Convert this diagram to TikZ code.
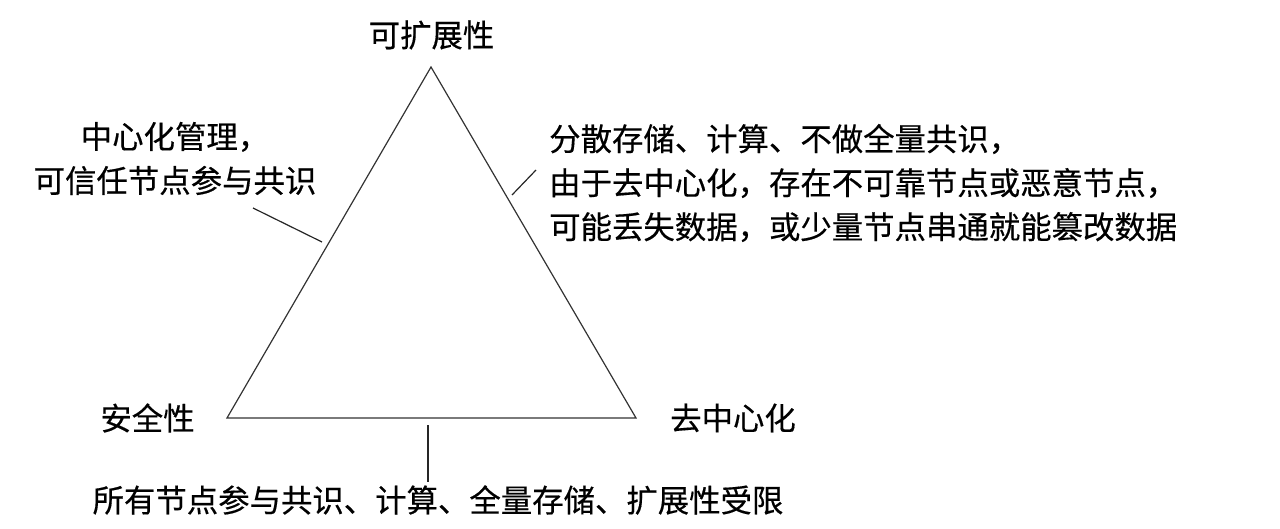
\documentclass[tikz,border=0pt]{standalone}
\usepackage{fontspec}
\setmainfont{Noto Sans CJK SC}[FakeBold=0.4]
\begin{document}
\begin{tikzpicture}[x=1pt,y=-1pt,
  lbl/.style={inner sep=0pt, font=\fontsize{31.4}{44}\selectfont, text=black},
  edge/.style={draw=black!80, line width=1.2pt, line join=miter},
  leader/.style={draw=black!85, line width=1.2pt}]
\useasboundingbox (0,0) rectangle (1280,529);
% triangle corners
\coordinate (T) at (431,67);
\coordinate (L) at (227,418);
\coordinate (R) at (636,418);
\draw[edge] (T) -- (L) -- (R) -- cycle;
% vertex labels
\node[lbl] (top) at (431.5,35) {可扩展性};
\node[lbl] (sec) at (147.5,418) {安全性};
\node[lbl] (dec) at (733,418) {去中心化};
% side labels
\node[lbl, align=center] (leftlab) at (175,158.5) {中心化管理，\\可信任节点参与共识};
\node[lbl, align=left, anchor=west] (rightlab) at (549,183) {分散存储、计算、不做全量共识，\\由于去中心化，存在不可靠节点或恶意节点，\\可能丢失数据，或少量节点串通就能篡改数据};
\node[lbl] (botlab) at (438,500) {所有节点参与共识、计算、全量存储、扩展性受限};
% leader lines
\coordinate (la) at (253,208);
\coordinate (lb) at (322,242);
\coordinate (ra) at (512,195);
\coordinate (rb) at (536,170);
\coordinate (ba) at (428,425);
\coordinate (bb) at (428,482);
\draw[leader] (la) -- (lb);
\draw[leader] (ra) -- (rb);
\draw[leader] (ba) -- (bb);
\end{tikzpicture}
\end{document}
